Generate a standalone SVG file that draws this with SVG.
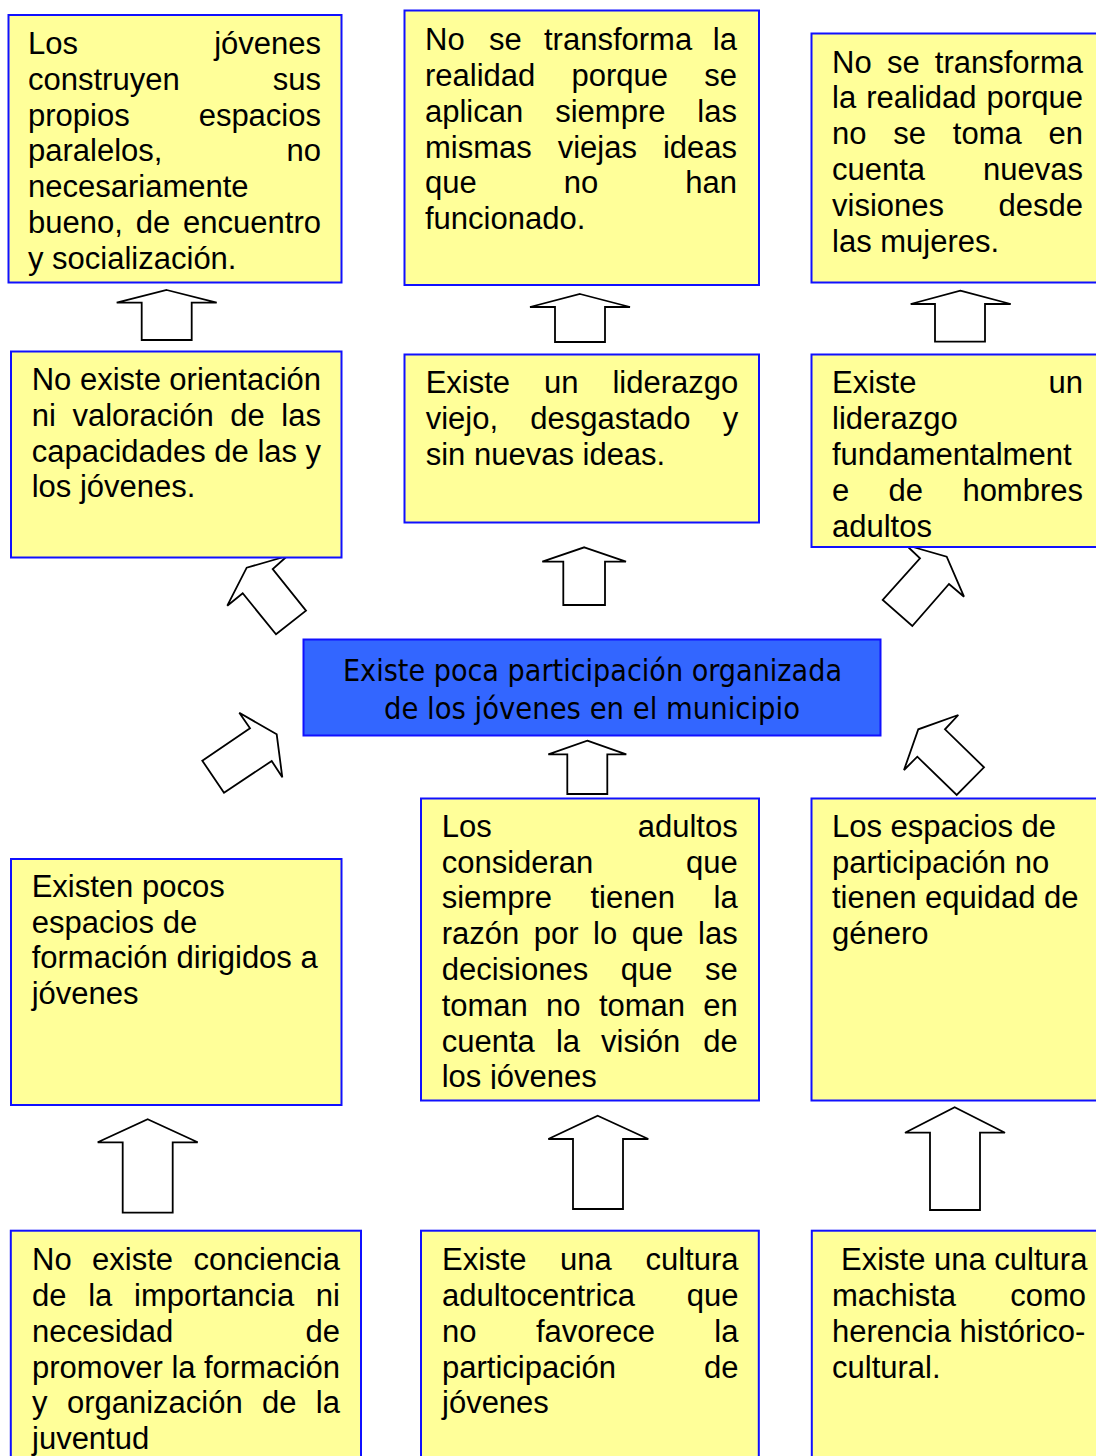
<svg xmlns="http://www.w3.org/2000/svg" width="1096" height="1456" viewBox="0 0 1096 1456">
<style>
.box{fill:#FFFF99;stroke:#1010FF;stroke-width:2}
.core{fill:#3366FF;stroke:#1010FF;stroke-width:2}
.t{font-family:"Liberation Sans",Arial,sans-serif;font-size:31px;fill:#000}
.e{text-anchor:end}
.c{font-family:"DejaVu Sans Condensed","DejaVu Sans",Tahoma,sans-serif;font-size:30px;fill:#000;text-anchor:middle}
.arr{fill:#fff;stroke:#000;stroke-width:1.8;stroke-linejoin:miter}
</style>
<defs>
<clipPath id="clip8"><rect x="421" y="798" width="338" height="291"/></clipPath>
</defs>
<rect width="1096" height="1456" fill="#fff"/>

<g id="connectors">
<polygon class="arr" points="166.7,290 216.7,302.7 191.7,302.7 191.7,340 141.7,340 141.7,302.7 116.7,302.7"/>
<polygon class="arr" points="580,294 630,307 605,307 605,342 555,342 555,307 530,307"/>
<polygon class="arr" points="960.3,290.7 1010.7,304 985,304 985,341.7 935,341.7 935,304 910.7,304"/>
<polygon class="arr" points="584.3,547.3 626,561.7 605,561.7 605,605 563.3,605 563.3,561.7 542.3,561.7"/>
<polygon class="arr" points="587.3,740.7 626.3,754.3 607.3,754.3 607.3,794 567.3,794 567.3,754.3 548.3,754.3"/>
<polygon class="arr" points="147.7,1119.3 197.7,1142.3 172.7,1142.3 172.7,1212.7 122.7,1212.7 122.7,1142.3 97.7,1142.3"/>
<polygon class="arr" points="597.7,1115.7 648.3,1139 623,1139 623,1209 573,1209 573,1139 548.3,1139"/>
<polygon class="arr" points="954.7,1107.3 1005,1132.7 980,1132.7 980,1210 930,1210 930,1132.7 905,1132.7"/>
<polygon class="arr" points="287.3,556 246.7,567.7 227.3,605.7 242.7,593.3 276,634.3 306,610.7 272.7,569"/>
<polygon class="arr" points="906,545 920,558.3 882.7,600 912.3,626 949,584 964,596.7 946.7,556.7"/>
<polygon class="arr" points="958.3,715 918.3,729.3 904,770 917.3,756.7 956.7,795 984,767.3 945,729.3"/>
<polygon class="arr" points="239.3,712.7 250,728.3 202.3,760.7 224,792.7 271.7,761 282.3,777.3 276.7,734.3"/>
</g>

<g id="n1">
<rect class="box" x="8.5" y="15" width="333" height="267.5"/>
<text class="t" x="28" y="54">Los</text><text class="t e" x="321" y="54">jóvenes</text>
<text class="t" x="28" y="89.8">construyen</text><text class="t e" x="321" y="89.8">sus</text>
<text class="t" x="28" y="125.6">propios</text><text class="t e" x="321" y="125.6">espacios</text>
<text class="t" x="28" y="161.4">paralelos,</text><text class="t e" x="321" y="161.4">no</text>
<text class="t" x="28" y="197.2">necesariamente</text>
<text class="t" y="233"><tspan x="28">bueno,</tspan><tspan x="135.7">de</tspan></text><text class="t e" x="321" y="233">encuentro</text>
<text class="t" x="28" y="268.8">y socialización.</text>
</g>

<g id="n2">
<rect class="box" x="404.5" y="10.5" width="354.5" height="274.5"/>
<text class="t" y="50.2"><tspan x="425">No</tspan><tspan x="489">se</tspan><tspan x="544">transforma</tspan></text><text class="t e" x="737" y="50.2">la</text>
<text class="t" y="86"><tspan x="425">realidad</tspan><tspan x="571.5">porque</tspan></text><text class="t e" x="737" y="86">se</text>
<text class="t" y="121.8"><tspan x="425">aplican</tspan><tspan x="555.2">siempre</tspan></text><text class="t e" x="737" y="121.8">las</text>
<text class="t" y="157.6"><tspan x="425">mismas</tspan><tspan x="557.7">viejas</tspan></text><text class="t e" x="737" y="157.6">ideas</text>
<text class="t" y="193.4"><tspan x="425">que</tspan><tspan x="563.8">no</tspan></text><text class="t e" x="737" y="193.4">han</text>
<text class="t" x="425" y="229.2">funcionado.</text>
</g>

<g id="n3">
<rect class="box" x="811.5" y="33.5" width="290" height="249"/>
<text class="t" y="72.5"><tspan x="832">No</tspan><tspan x="887">se</tspan></text><text class="t e" x="1083" y="72.5">transforma</text>
<text class="t" y="108.3"><tspan x="832">la</tspan><tspan x="866.2">realidad</tspan></text><text class="t e" x="1083" y="108.3">porque</text>
<text class="t" y="144.1"><tspan x="832">no</tspan><tspan x="893.3">se</tspan><tspan x="952.8">toma</tspan></text><text class="t e" x="1083" y="144.1">en</text>
<text class="t" x="832" y="179.9">cuenta</text><text class="t e" x="1083" y="179.9">nuevas</text>
<text class="t" x="832" y="215.7">visiones</text><text class="t e" x="1083" y="215.7">desde</text>
<text class="t" x="832" y="251.5">las mujeres.</text>
</g>

<g id="n4">
<rect class="box" x="11" y="351.5" width="330.5" height="206"/>
<text class="t" y="390"><tspan x="31.7">No</tspan><tspan x="79.9">existe</tspan></text><text class="t e" x="321" y="390">orientación</text>
<text class="t" y="425.8"><tspan x="31.7">ni</tspan><tspan x="72.4">valoración</tspan><tspan x="230.3">de</tspan></text><text class="t e" x="321" y="425.8">las</text>
<text class="t" y="461.6"><tspan x="31.7">capacidades</tspan><tspan x="214.3">de</tspan><tspan x="257.4">las</tspan></text><text class="t e" x="321" y="461.6">y</text>
<text class="t" x="31.7" y="497.4">los jóvenes.</text>
</g>

<g id="n5">
<rect class="box" x="404.5" y="354.5" width="354.5" height="168"/>
<text class="t" y="393.3"><tspan x="425.7">Existe</tspan><tspan x="544.1">un</tspan></text><text class="t e" x="738.3" y="393.3">liderazgo</text>
<text class="t" y="429.1"><tspan x="425.7">viejo,</tspan><tspan x="530.3">desgastado</tspan></text><text class="t e" x="738.3" y="429.1">y</text>
<text class="t" x="425.7" y="464.9">sin nuevas ideas.</text>
</g>

<g id="n6">
<rect class="box" x="811.5" y="354.5" width="290" height="192.5"/>
<text class="t" x="832" y="393.3">Existe</text><text class="t e" x="1083" y="393.3">un</text>
<text class="t" x="832" y="429.1">liderazgo</text>
<text class="t" x="832" y="464.9">fundamentalment</text>
<text class="t" y="500.7"><tspan x="832">e</tspan><tspan x="888.6">de</tspan></text><text class="t e" x="1083" y="500.7">hombres</text>
<text class="t" x="832" y="536.5">adultos</text>
</g>

<g id="n0">
<rect class="core" x="303.5" y="639.5" width="577" height="96"/>
<text class="c" x="592.5" y="681" textLength="499" lengthAdjust="spacingAndGlyphs">Existe poca participación organizada</text>
<text class="c" x="592" y="719" textLength="416" lengthAdjust="spacingAndGlyphs">de los jóvenes en el municipio</text>
</g>

<g id="n7">
<rect class="box" x="11" y="859" width="330.5" height="246"/>
<text class="t" x="31.7" y="896.7">Existen pocos</text>
<text class="t" x="31.7" y="932.5">espacios de</text>
<text class="t" x="31.7" y="968.3">formación dirigidos a</text>
<text class="t" x="31.7" y="1004.1">jóvenes</text>
</g>

<g id="n8">
<rect class="box" x="421" y="798.5" width="338" height="302"/>
<g clip-path="url(#clip8)">
<text class="t" x="441.7" y="836.7">Los</text><text class="t e" x="737.7" y="836.7">adultos</text>
<text class="t" x="441.7" y="872.5">consideran</text><text class="t e" x="737.7" y="872.5">que</text>
<text class="t" y="908.3"><tspan x="441.7">siempre</tspan><tspan x="590.5">tienen</tspan></text><text class="t e" x="737.7" y="908.3">la</text>
<text class="t" y="944.1"><tspan x="441.7">razón</tspan><tspan x="533.8">por</tspan><tspan x="593.1">lo</tspan><tspan x="631.8">que</tspan></text><text class="t e" x="737.7" y="944.1">las</text>
<text class="t" y="979.9"><tspan x="441.7">decisiones</tspan><tspan x="620.7">que</tspan></text><text class="t e" x="737.7" y="979.9">se</text>
<text class="t" y="1015.7"><tspan x="441.7">toman</tspan><tspan x="546.1">no</tspan><tspan x="598.9">toman</tspan></text><text class="t e" x="737.7" y="1015.7">en</text>
<text class="t" y="1051.5"><tspan x="441.7">cuenta</tspan><tspan x="555.9">la</tspan><tspan x="601.1">visión</tspan></text><text class="t e" x="737.7" y="1051.5">de</text>
<text class="t" x="441.7" y="1087.3">los jóvenes</text>
</g>
</g>

<g id="n9">
<rect class="box" x="811.5" y="798.5" width="290" height="302"/>
<text class="t" x="832" y="836.7">Los espacios de</text>
<text class="t" x="832" y="872.5">participación no</text>
<text class="t" x="832" y="908.3">tienen equidad de</text>
<text class="t" x="832" y="944.1">género</text>
</g>

<g id="n10">
<rect class="box" x="10.8" y="1230.7" width="350.2" height="240"/>
<text class="t" y="1270.2"><tspan x="32">No</tspan><tspan x="92.1">existe</tspan></text><text class="t e" x="340" y="1270.2">conciencia</text>
<text class="t" y="1306"><tspan x="32">de</tspan><tspan x="88.2">la</tspan><tspan x="134">importancia</tspan></text><text class="t e" x="340" y="1306">ni</text>
<text class="t" x="32" y="1341.8">necesidad</text><text class="t e" x="340" y="1341.8">de</text>
<text class="t" y="1377.6"><tspan x="32">promover</tspan><tspan x="171.4">la</tspan></text><text class="t e" x="340" y="1377.6">formación</text>
<text class="t" y="1413.4"><tspan x="32">y</tspan><tspan x="66.9">organización</tspan><tspan x="262">de</tspan></text><text class="t e" x="340" y="1413.4">la</text>
<text class="t" x="32" y="1449.2">juventud</text>
</g>

<g id="n11">
<rect class="box" x="421" y="1230.7" width="337.8" height="240"/>
<text class="t" y="1270.2"><tspan x="442">Existe</tspan><tspan x="560.1">una</tspan></text><text class="t e" x="738.5" y="1270.2">cultura</text>
<text class="t" x="442" y="1306">adultocentrica</text><text class="t e" x="738.5" y="1306">que</text>
<text class="t" y="1341.8"><tspan x="442">no</tspan><tspan x="536">favorece</tspan></text><text class="t e" x="738.5" y="1341.8">la</text>
<text class="t" x="442" y="1377.6">participación</text><text class="t e" x="738.5" y="1377.6">de</text>
<text class="t" x="442" y="1413.4">jóvenes</text>
</g>

<g id="n12">
<rect class="box" x="811.8" y="1230.7" width="290" height="240"/>
<text class="t" x="841" y="1270.2">Existe una cultura</text>
<text class="t" x="832" y="1306">machista</text><text class="t e" x="1086" y="1306">como</text>
<text class="t" x="832" y="1341.8">herencia histórico-</text>
<text class="t" x="832" y="1377.6">cultural.</text>
</g>
</svg>
